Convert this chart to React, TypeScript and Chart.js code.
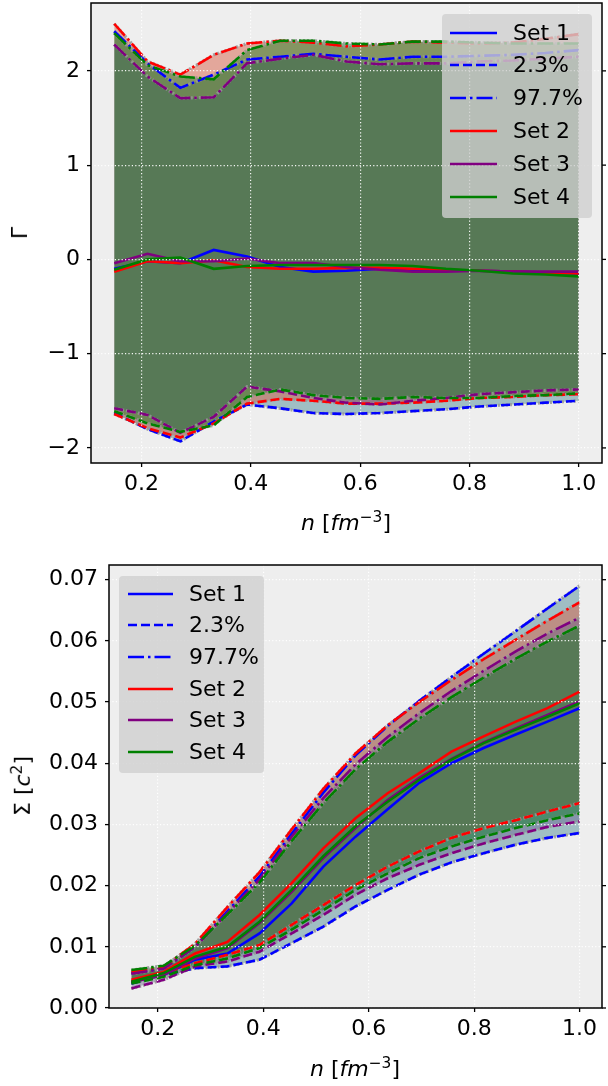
import React, { useEffect, useRef } from 'react';
import { Chart, registerables } from 'chart.js';
Chart.register(...registerables);

// density grid n [fm^-3]
const N = [0.15, 0.211, 0.271, 0.332, 0.393, 0.454, 0.514, 0.575, 0.636, 0.696, 0.757, 0.818, 0.879, 0.939, 1.0];

// ---- Top panel: Gamma ----
const G1_MID = [-0.10, -0.02, -0.04, 0.10, 0.03, -0.08, -0.13, -0.12, -0.10, -0.12, -0.12, -0.12, -0.13, -0.14, -0.15];
const G1_LO = [-1.63, -1.80, -1.93, -1.72, -1.54, -1.58, -1.63, -1.64, -1.63, -1.61, -1.59, -1.56, -1.54, -1.52, -1.50];
const G1_HI = [2.42, 2.08, 1.82, 1.96, 2.12, 2.15, 2.18, 2.15, 2.12, 2.15, 2.15, 2.16, 2.17, 2.19, 2.22];

const G2_MID = [-0.13, -0.02, -0.04, -0.01, -0.08, -0.10, -0.10, -0.09, -0.09, -0.10, -0.11, -0.12, -0.13, -0.14, -0.15];
const G2_LO = [-1.64, -1.79, -1.89, -1.74, -1.53, -1.48, -1.50, -1.53, -1.53, -1.52, -1.50, -1.47, -1.46, -1.44, -1.43];
const G2_HI = [2.50, 2.10, 1.96, 2.17, 2.29, 2.32, 2.30, 2.26, 2.28, 2.31, 2.30, 2.29, 2.30, 2.34, 2.39];

const G3_MID = [-0.04, 0.06, -0.02, -0.02, 0.01, -0.04, -0.04, -0.08, -0.11, -0.13, -0.13, -0.12, -0.13, -0.13, -0.13];
const G3_LO = [-1.58, -1.65, -1.84, -1.67, -1.35, -1.40, -1.47, -1.52, -1.54, -1.50, -1.47, -1.43, -1.41, -1.39, -1.38];
const G3_HI = [2.28, 1.94, 1.71, 1.72, 2.08, 2.13, 2.17, 2.10, 2.07, 2.08, 2.08, 2.10, 2.11, 2.13, 2.15];

const G4_MID = [-0.11, 0.00, 0.02, -0.10, -0.07, -0.06, -0.06, -0.06, -0.06, -0.07, -0.10, -0.12, -0.15, -0.16, -0.18];
const G4_LO = [-1.61, -1.74, -1.83, -1.76, -1.46, -1.38, -1.44, -1.47, -1.48, -1.46, -1.47, -1.47, -1.45, -1.44, -1.42];
const G4_HI = [2.40, 2.06, 1.94, 1.91, 2.22, 2.32, 2.32, 2.29, 2.28, 2.31, 2.31, 2.30, 2.29, 2.29, 2.29];

// ---- Bottom panel: Sigma [c^2] ----
const S1_MID = [0.0043, 0.0054, 0.0079, 0.0089, 0.0122, 0.0171, 0.0231, 0.0280, 0.0325, 0.0368, 0.0400, 0.0425, 0.0447, 0.0468, 0.0490];
const S1_LO = [0.0040, 0.0054, 0.0065, 0.0068, 0.0079, 0.0106, 0.0133, 0.0166, 0.0193, 0.0218, 0.0238, 0.0253, 0.0267, 0.0278, 0.0286];
const S1_HI = [0.0057, 0.0065, 0.0100, 0.0158, 0.0215, 0.0285, 0.0352, 0.0413, 0.0461, 0.0502, 0.0541, 0.0579, 0.0616, 0.0653, 0.0690];

const S2_MID = [0.0046, 0.0059, 0.0089, 0.0108, 0.0152, 0.0204, 0.0261, 0.0310, 0.0351, 0.0384, 0.0419, 0.0444, 0.0468, 0.0490, 0.0517];
const S2_LO = [0.0043, 0.0057, 0.0073, 0.0087, 0.0103, 0.0136, 0.0168, 0.0201, 0.0231, 0.0256, 0.0278, 0.0294, 0.0307, 0.0321, 0.0335];
const S2_HI = [0.0059, 0.0067, 0.0105, 0.0165, 0.0222, 0.0292, 0.0358, 0.0416, 0.0462, 0.0500, 0.0536, 0.0570, 0.0602, 0.0633, 0.0663];

const S3_MID = [0.0042, 0.0054, 0.0081, 0.0098, 0.0139, 0.0190, 0.0245, 0.0294, 0.0340, 0.0376, 0.0407, 0.0434, 0.0457, 0.0479, 0.0501];
const S3_LO = [0.0032, 0.0046, 0.0068, 0.0076, 0.0092, 0.0122, 0.0152, 0.0185, 0.0212, 0.0234, 0.0253, 0.0269, 0.0283, 0.0296, 0.0305];
const S3_HI = [0.0056, 0.0064, 0.0100, 0.0155, 0.0210, 0.0280, 0.0343, 0.0398, 0.0443, 0.0482, 0.0518, 0.0551, 0.0583, 0.0612, 0.0638];

const S4_MID = [0.0043, 0.0057, 0.0084, 0.0100, 0.0141, 0.0193, 0.0248, 0.0297, 0.0337, 0.0373, 0.0406, 0.0433, 0.0455, 0.0476, 0.0498];
const S4_LO = [0.0040, 0.0051, 0.0070, 0.0081, 0.0098, 0.0128, 0.0160, 0.0193, 0.0220, 0.0245, 0.0264, 0.0280, 0.0294, 0.0307, 0.0318];
const S4_HI = [0.0062, 0.0069, 0.0102, 0.0153, 0.0205, 0.0273, 0.0335, 0.0390, 0.0435, 0.0473, 0.0508, 0.0540, 0.0571, 0.0599, 0.0625];

const X_TICKS = [0.2, 0.4, 0.6, 0.8, 1.0];
const GAMMA_TICKS = [-2, -1, 0, 1, 2];
const SIGMA_TICKS = [0.0, 0.01, 0.02, 0.03, 0.04, 0.05, 0.06, 0.07];
const LEGEND_LABELS = ['Set 1', '2.3%', '97.7%', 'Set 2', 'Set 3', 'Set 4'];

const BLUE = '#0000ff';
const RED = '#ff0000';
const PURPLE = '#800080';
const GREEN = '#008000';
const FILLS = ['rgba(43,118,131,0.4)', 'rgba(216,96,71,0.5)', 'rgba(93,86,138,0.4)', 'rgba(0,125,18,0.42)'];
const COLORS = [BLUE, RED, PURPLE, GREEN];
const DASH = [9, 4];
const DASHDOT = [16, 4, 2.5, 4];
const LW = 2.6;
const FONT = 'DejaVu Sans';

const pts = (vals: number[]) => vals.map((v, i) => ({ x: N[i], y: v }));

function buildDatasets(sets: number[][][]) {
  const ds: any[] = [];
  sets.forEach((s, k) => {
    const [mid, lo, hi] = s;
    const order = 40 - k * 10;
    const loIdx = ds.length;
    ds.push({ data: pts(lo), borderColor: COLORS[k], borderWidth: LW, borderDash: DASH, pointRadius: 0, fill: false, order, tension: 0 });
    ds.push({ data: pts(hi), borderColor: COLORS[k], borderWidth: LW, borderDash: DASHDOT, pointRadius: 0, fill: loIdx, backgroundColor: FILLS[k], order, tension: 0 });
    ds.push({ data: pts(mid), borderColor: COLORS[k], borderWidth: LW, pointRadius: 0, fill: false, order, tension: 0 });
  });
  // gray edges of the filled bands
  sets.forEach((s) => {
    [s[1], s[2]].forEach((v) => {
      ds.push({ data: pts(v), borderColor: 'rgba(150,150,150,0.85)', borderWidth: 3.2, borderDash: [2, 2], pointRadius: 0, fill: false, order: 50 });
    });
  });
  return ds;
}

const framePlugin = {
  id: 'frame',
  beforeDraw(chart: any) {
    const { ctx, chartArea: a } = chart;
    ctx.save();
    ctx.fillStyle = '#eeeeee';
    ctx.fillRect(a.left, a.top, a.right - a.left, a.bottom - a.top);
    ctx.restore();
  },
  afterDraw(chart: any) {
    const { ctx, chartArea: a } = chart;
    ctx.save();
    ctx.strokeStyle = '#000';
    ctx.lineWidth = 1.5;
    ctx.strokeRect(a.left, a.top, a.right - a.left, a.bottom - a.top);
    const ys = chart.scales.y;
    ctx.lineWidth = 1.3;
    ys.ticks.forEach((t: any) => {
      const p = ys.getPixelForValue(t.value);
      ctx.beginPath();
      ctx.moveTo(a.right, p);
      ctx.lineTo(a.right + 4, p);
      ctx.stroke();
    });
    ctx.restore();
  },
};

const zeroPad = (s: any) => { s.paddingTop = 0; s.paddingBottom = 0; s.paddingLeft = 0; s.paddingRight = 0; };

function makeScales(cfg: any) {
  const grid = { color: 'rgba(255,255,255,0.95)', lineWidth: 1.2, z: 1, tickColor: '#000', tickLength: 4, tickWidth: 1.3 };
  const border = { display: false, dash: [1.2, 2.2] };
  const font = { family: FONT, size: 22 };
  return {
    x: {
      type: 'linear', min: 0.1075, max: 1.0425,
      afterBuildTicks: (s: any) => { s.ticks = X_TICKS.map((v) => ({ value: v })); },
      afterFit: (s: any) => { s.height = cfg.xh; zeroPad(s); },
      grid, border,
      ticks: { font, color: '#000', padding: 4, maxRotation: 0, autoSkip: false, callback: (v: any) => Number(v).toFixed(1) },
    },
    y: {
      type: 'linear', min: cfg.ymin, max: cfg.ymax,
      afterBuildTicks: (s: any) => { s.ticks = cfg.yticks.map((v: number) => ({ value: v })); },
      afterFit: (s: any) => { s.width = cfg.yw; zeroPad(s); },
      grid, border,
      ticks: { font, color: '#000', padding: 7, autoSkip: false, callback: cfg.ycb },
    },
  };
}

function ChartCanvas({ width, height, sets, cfg }: any) {
  const ref = useRef<HTMLCanvasElement>(null);
  useEffect(() => {
    const chart = new Chart(ref.current as HTMLCanvasElement, {
      type: 'line',
      data: { datasets: buildDatasets(sets) },
      options: {
        animation: false,
        responsive: false,
        devicePixelRatio: 1,
        layout: { padding: { top: cfg.padTop, right: 6, left: 0, bottom: 0 } },
        plugins: { legend: { display: false }, tooltip: { enabled: false }, filler: { drawTime: 'beforeDatasetsDraw' } },
        scales: makeScales(cfg) as any,
      } as any,
      plugins: [framePlugin],
    });
    return () => chart.destroy();
  }, []);
  return <canvas ref={ref} width={width} height={height} style={{ display: 'block', width, height }} />;
}

function Legend({ left, top, width, height, first, gap, sampleX, sampleW, textX }: any) {
  const styles = [null, DASH, DASHDOT, null, null, null];
  const colors = [BLUE, BLUE, BLUE, RED, PURPLE, GREEN];
  return (
    <div style={{ position: 'absolute', left, top, width, height, background: 'rgba(208,208,208,0.8)', borderRadius: 4, fontFamily: FONT }}>
      {LEGEND_LABELS.map((lab, i) => {
        const cy = first + i * gap;
        return (
          <React.Fragment key={lab}>
            <svg style={{ position: 'absolute', left: sampleX, top: cy - 3 }} width={sampleW} height={6}>
              <line x1={0} y1={3} x2={sampleW} y2={3} stroke={colors[i]} strokeWidth={LW} strokeDasharray={styles[i] ? styles[i]!.join(' ') : undefined} />
            </svg>
            <div style={{ position: 'absolute', left: textX, top: cy, transform: 'translateY(-50%)', fontSize: 22, lineHeight: 1, color: '#000', whiteSpace: 'nowrap' }}>{lab}</div>
          </React.Fragment>
        );
      })}
    </div>
  );
}

const labelStyle: any = { position: 'absolute', fontFamily: FONT, fontSize: 22, lineHeight: 1, color: '#000', whiteSpace: 'nowrap' };

export default function App() {
  const topCfg = {
    ymin: -2.16, ymax: 2.72, yticks: GAMMA_TICKS, yw: 91, xh: 82, padTop: 3,
    ycb: (v: any) => (v < 0 ? '\u2212' + Math.abs(v) : String(v)),
  };
  const botCfg = {
    ymin: 0, ymax: 0.0724, yticks: SIGMA_TICKS, yw: 109, xh: 78, padTop: 20,
    ycb: (v: any) => Number(v).toFixed(2),
  };
  const topSets = [[G1_MID, G1_LO, G1_HI], [G2_MID, G2_LO, G2_HI], [G3_MID, G3_LO, G3_HI], [G4_MID, G4_LO, G4_HI]];
  const botSets = [[S1_MID, S1_LO, S1_HI], [S2_MID, S2_LO, S2_HI], [S3_MID, S3_LO, S3_HI], [S4_MID, S4_LO, S4_HI]];
  return (
    <div style={{ position: 'absolute', left: 0, top: 0, width: 608, height: 1086, background: '#fff', overflow: 'hidden' }}>
      <div style={{ position: 'absolute', left: 0, top: 0 }}>
        <ChartCanvas width={608} height={545} sets={topSets} cfg={topCfg} />
      </div>
      <div style={{ position: 'absolute', left: 0, top: 545 }}>
        <ChartCanvas width={608} height={541} sets={botSets} cfg={botCfg} />
      </div>
      <Legend left={442} top={14} width={150} height={204} first={18.5} gap={32.8} sampleX={8} sampleW={47} textX={71} />
      <Legend left={119} top={576} width={145} height={197} first={17.5} gap={31.7} sampleX={9} sampleW={45} textX={70} />
      <div style={{ ...labelStyle, left: 20, top: 233, transform: 'translate(-50%,-50%) rotate(-90deg)' }}>Γ</div>
      <div style={{ ...labelStyle, left: 22, top: 786, transform: 'translate(-50%,-50%) rotate(-90deg)' }}>Σ [<i>c</i><sup style={{ fontSize: '0.7em' }}>2</sup>]</div>
      <div style={{ ...labelStyle, left: 346, top: 522, transform: 'translate(-50%,-50%)' }}><i>n</i> [<i>fm</i><sup style={{ fontSize: '0.7em' }}>−3</sup>]</div>
      <div style={{ ...labelStyle, left: 355, top: 1068, transform: 'translate(-50%,-50%)' }}><i>n</i> [<i>fm</i><sup style={{ fontSize: '0.7em' }}>−3</sup>]</div>
    </div>
  );
}
